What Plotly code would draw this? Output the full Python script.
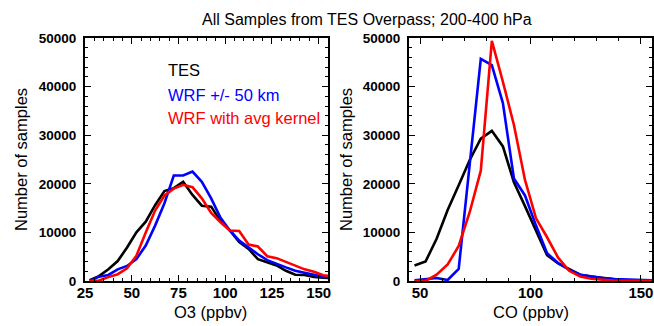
import plotly.graph_objects as go

# ---- data ----
o3_bins = [27.5, 32.5, 37.5, 42.5, 47.5, 52.5, 57.5, 62.5, 67.5, 72.5, 77.5, 82.5, 87.5,
           92.5, 97.5, 102.5, 107.5, 112.5, 117.5, 122.5, 127.5, 132.5, 137.5, 142.5,
           147.5, 152.5, 157.5]
o3_tes = [150, 1000, 2400, 4100, 6900, 10000, 12200, 15600, 18500, 19100, 20400, 17700, 15500,
          15300, 12300, 10400, 8000, 6600, 4500, 3900, 3200, 2100, 1300, 1250, 850, 700, 600]
o3_wrf = [0, 900, 1250, 2400, 3100, 4500, 7300, 11400, 16000, 21700, 21700, 22500, 20400,
          17000, 13000, 10400, 8300, 6900, 5500, 4300, 3500, 2800, 2100, 1700, 1400, 850, 700]
o3_avk = [0, 100, 800, 1400, 2600, 5200, 10000, 14500, 17600, 19000, 19800, 19300, 17000,
          14000, 12100, 10400, 10300, 7500, 7100, 5100, 4700, 3900, 3100, 2400, 1900, 1200, 900]

co_bins = [47.5, 52.5, 57.5, 62.5, 67.5, 72.5, 77.5, 82.5, 87.5, 92.5, 97.5, 102.5, 107.5,
           112.5, 117.5, 122.5, 127.5, 132.5, 137.5, 142.5, 147.5, 152.5, 157.5]
co_tes = [3200, 4000, 8700, 14600, 19700, 24900, 29300, 30900, 27700, 20300, 15400, 10400, 5300,
          3600, 2500, 1300, 900, 600, 400, 200, 100, 100, 50]
co_wrf = [150, 350, 620, 200, 2500, 24100, 45700, 44400, 36600, 21100, 17600, 11400, 5700,
          3700, 2300, 1300, 900, 600, 400, 300, 200, 150, 100]
co_avk = [0, 0, 1300, 3400, 7200, 14200, 22700, 49400, 41000, 32100, 20800, 12900, 9000,
          4800, 2100, 900, 450, 250, 100, 50, 30, 20, 10]

series_names = ["TES", "WRF +/- 50 km", "WRF with avg kernel"]
series_colors = ["#000000", "#0000ff", "#ff0000"]

title_text = "All Samples from TES Overpass; 200-400 hPa"
ytitle = "Number of samples"
xtitle_left = "O3 (ppbv)"
xtitle_right = "CO (ppbv)"

o3_ticks = [25, 50, 75, 100, 125, 150]
co_ticks = [50, 100, 150]
y_ticks = [0, 10000, 20000, 30000, 40000, 50000]

# ---- figure ----
W, H = 654, 326
FONT = "Liberation Sans, Arial, Helvetica, sans-serif"

fig = go.Figure()
for ys, name, col in zip([o3_tes, o3_wrf, o3_avk], series_names, series_colors):
    fig.add_trace(go.Scatter(x=o3_bins, y=ys, mode="lines", name=name,
                             line=dict(color=col, width=2.6), xaxis="x", yaxis="y",
                             showlegend=False))
for ys, name, col in zip([co_tes, co_wrf, co_avk], series_names, series_colors):
    fig.add_trace(go.Scatter(x=co_bins, y=ys, mode="lines", name=name,
                             line=dict(color=col, width=2.6), xaxis="x2", yaxis="y2",
                             showlegend=False))


def px_x(p):
    return p / W


def px_y(p):
    return 1 - p / H


ydom = [px_y(281), px_y(38)]

base_axis = dict(showline=True, linecolor="black", linewidth=2, mirror="allticks",
                 ticks="inside", ticklen=6, tickwidth=1.3, tickcolor="black",
                 showgrid=False, zeroline=False, automargin=False)


def minor(dt, t0):
    return dict(ticks="inside", ticklen=3, tickwidth=1, tickcolor="black",
                dtick=dt, tick0=t0, showgrid=False)


tickfont_x = dict(family=FONT, size=15, color="black", weight="bold")
tickfont_y = dict(family=FONT, size=13.5, color="black", weight="bold")

fig.update_layout(
    width=W, height=H, autosize=False,
    margin=dict(l=0, r=0, t=0, b=0, pad=0),
    paper_bgcolor="white", plot_bgcolor="white",
    xaxis=dict(domain=[px_x(85), px_x(328)], range=[25, 155], tickvals=o3_ticks,
               ticktext=[str(t) for t in o3_ticks], anchor="y", ticklabelstandoff=-3,
               tickfont=tickfont_x, minor=minor(5, 25), **base_axis),
    yaxis=dict(domain=ydom, range=[0, 50000], tickvals=y_ticks,
               ticktext=[str(t) for t in y_ticks], anchor="x",
               tickfont=tickfont_y, ticklabelstandoff=4, minor=minor(2000, 0), **base_axis),
    xaxis2=dict(domain=[px_x(409), px_x(652)], range=[45, 155], tickvals=co_ticks,
                ticktext=[str(t) for t in co_ticks], anchor="y2", ticklabelstandoff=-3,
                tickfont=tickfont_x, minor=minor(10, 50), **base_axis),
    yaxis2=dict(domain=ydom, range=[0, 50000], tickvals=y_ticks,
                ticktext=[str(t) for t in y_ticks], anchor="x2",
                tickfont=tickfont_y, ticklabelstandoff=4, minor=minor(2000, 0), **base_axis),
)

ann = []
ann.append(dict(text=title_text, x=px_x(367), y=px_y(19), xref="paper", yref="paper",
                showarrow=False, xanchor="center", yanchor="middle",
                font=dict(family=FONT, size=16, color="black")))
ann.append(dict(text=xtitle_left, x=px_x(210), y=px_y(312), xref="paper", yref="paper",
                showarrow=False, xanchor="center", yanchor="middle",
                font=dict(family=FONT, size=16.5, color="black")))
ann.append(dict(text=xtitle_right, x=px_x(531), y=px_y(312), xref="paper", yref="paper",
                showarrow=False, xanchor="center", yanchor="middle",
                font=dict(family=FONT, size=16.5, color="black")))
for xc in (21, 346):
    ann.append(dict(text=ytitle, x=px_x(xc), y=px_y(160), xref="paper", yref="paper",
                    showarrow=False, xanchor="center", yanchor="middle", textangle=-90,
                    font=dict(family=FONT, size=16.5, color="black")))
for name, col, yc in zip(series_names, series_colors, (70, 95, 118)):
    ann.append(dict(text=name, x=px_x(166), y=px_y(yc), xref="paper", yref="paper",
                    showarrow=False, xanchor="left", yanchor="middle",
                    font=dict(family=FONT, size=16.5, color=col)))
fig.update_layout(annotations=ann)

fig.write_html(
    "out.html",
    post_script=(
        "document.documentElement.style.margin='0';"
        "document.body.style.margin='0';document.body.style.padding='0';"
        "document.body.style.overflow='hidden';"
        "var gd=document.getElementById('{plot_id}');"
        "if(window.Plotly&&gd){Plotly.Plots.resize(gd);}"
    ),
)
